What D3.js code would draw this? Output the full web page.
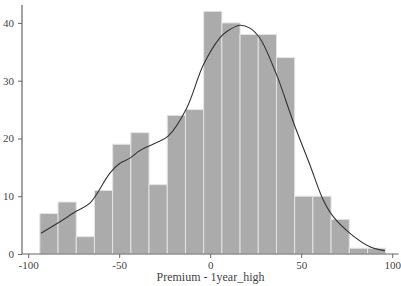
<!DOCTYPE html>
<html><head><meta charset="utf-8">
<script src="https://cdn.jsdelivr.net/npm/d3@7"></script>
<style>html,body{margin:0;padding:0;background:#fff;}svg{display:block;}</style>
</head><body>
<svg id="chart" width="401" height="286"></svg>
<script>
// Histogram bins (left edges) and counts
const binStarts = [-93.6,-83.6,-73.6,-63.6,-53.6,-43.6,-33.6,-23.6,-13.6,-3.6,6.4,16.4,26.4,36.4,46.4,56.4,66.4,76.4,86.4];
const binWidth = 10;
const counts = [7,9,3,11,19,21,12,24,25,42,40,38,38,34,10,10,6,1,1];
// KDE curve (scaled to counts)
const kdeX = [-93.0,-83.0,-73.4,-66.1,-55.1,-49.6,-44.1,-38.6,-30.0,-23.1,-13.0,-3.8,5.3,9.5,16.3,21.8,27.3,36.5,45.6,54.8,62.1,67.6,76.8,87.7,96.0];
const kdeY = [3.6,5.5,7.45,8.8,14.0,15.7,16.6,17.9,19.2,20.4,25.2,32.7,37.4,38.6,39.6,39.1,37.35,31.0,22.9,15.4,9.35,6.46,3.58,1.26,0.57];
const xTicks = [-100,-50,0,50,100];
const yTicks = [0,10,20,30,40];
const xLabel = "Premium - 1year_high";

const svg = d3.select("#chart");
const x = d3.scaleLinear().domain([-103.4, 103.5]).range([22, 398.6]);
const y = d3.scaleLinear().domain([0, 43.1]).range([254, 5]);
const font = "'Liberation Serif', 'DejaVu Serif', serif";

svg.append("g").selectAll("rect").data(counts).join("rect")
  .attr("x", (d,i) => x(binStarts[i]))
  .attr("width", (d,i) => x(binStarts[i] + binWidth) - x(binStarts[i]))
  .attr("y", d => y(d))
  .attr("height", d => y(0) - y(d))
  .attr("fill", "#ababab")
  .attr("stroke", "#e4e4e4")
  .attr("stroke-width", 1);

const line = d3.line().x((d,i) => x(kdeX[i])).y(d => y(d)).curve(d3.curveCatmullRom.alpha(0.5));
svg.append("path").datum(kdeY).attr("d", line)
  .attr("fill", "none").attr("stroke", "#333").attr("stroke-width", 1.1);

const fmt = d => String(d);
const xAxis = svg.append("g").attr("transform", "translate(0,254)")
  .call(d3.axisBottom(x).tickValues(xTicks).tickSize(4).tickPadding(3).tickFormat(fmt));
const yAxis = svg.append("g").attr("transform", "translate(22,0)")
  .call(d3.axisLeft(y).tickValues(yTicks).tickSize(4).tickPadding(4).tickFormat(fmt));
[xAxis, yAxis].forEach(g => {
  g.select(".domain").attr("stroke", "#666").attr("stroke-width", 1.2);
  g.selectAll(".tick line").attr("stroke", "#666");
  g.selectAll(".tick text").attr("fill", "#444").style("font-family", font).style("font-size", "11px");
});
xAxis.select(".domain").attr("d", "M" + x.range()[0] + ",0H" + x.range()[1]);
yAxis.select(".domain").attr("d", "M0," + y.range()[1] + "V" + y.range()[0]);

svg.append("text").attr("x", 210.5).attr("y", 281).attr("text-anchor", "middle")
  .attr("fill", "#444").style("font-family", font).style("font-size", "12px").text(xLabel);
</script>
</body></html>
